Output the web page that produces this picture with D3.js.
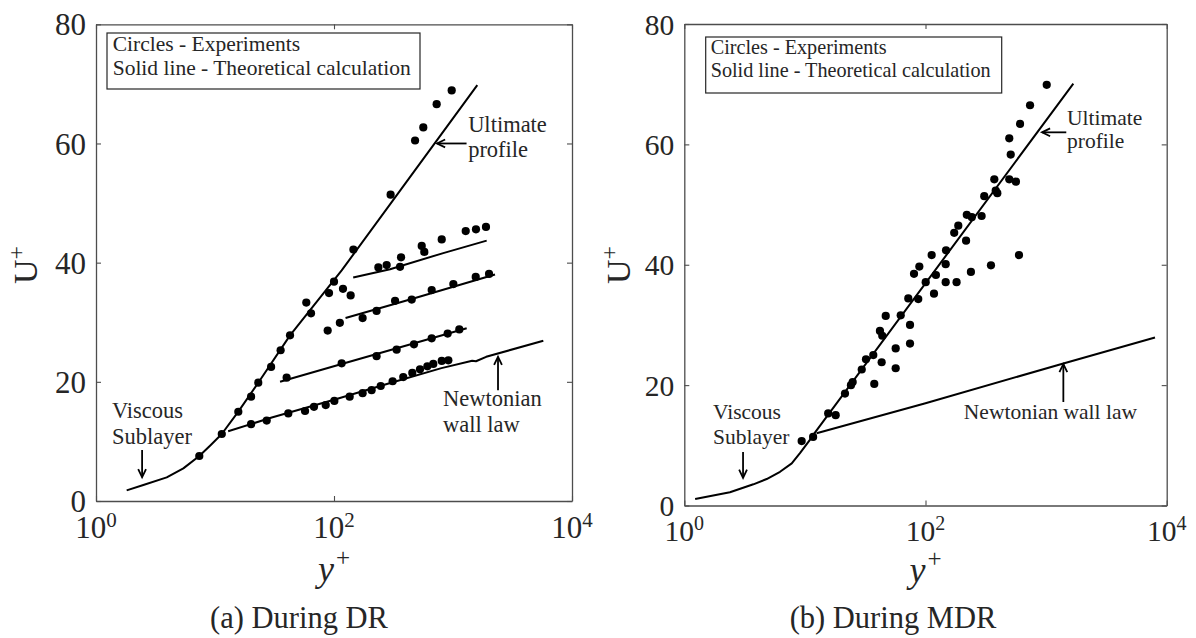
<!DOCTYPE html>
<html>
<head>
<meta charset="utf-8">
<script src="https://cdn.jsdelivr.net/npm/d3@7"></script>
<style>
  html, body { margin: 0; padding: 0; background: #fff; }
  svg { display: block; font-family: "Liberation Serif", "Times New Roman", serif; }
  text { font-family: "Liberation Serif", "Times New Roman", serif; fill: #262626; }
</style>
</head>
<body>
<svg id="chart" width="1196" height="638"></svg>
<script>
// ---------------- DATA ----------------
const xTicks = [1, 100, 10000];
const xTickExponents = ["0", "2", "4"];
const yTicks = [0, 20, 40, 60, 80];
const legendLines = ["Circles - Experiments", "Solid line - Theoretical calculation"];
const captions = ["(a) During DR", "(b) During MDR"];

// (a) During DR — theoretical lines [y+, U+]
const drUltimateLine = [[1.81,1.79],[2.5,2.68],[3.93,3.97],[5.42,5.48],[7.38,7.55],[9.08,9.28],[11.4,11.24],[15.7,15.0],[23.1,19.85],[42.7,27.8],[116,38.7],[408,53.6],[1600,69.8]];
const drNewtonianLine = [[12.9,11.7],[30,14.0],[100,17.0],[297,19.8],[800,22.3],[1450,23.55],[1560,23.45],[1900,24.2],[5741,26.9]];
const drProfileLine1 = [[145,37.5],[296,38.9],[828,41.6],[1919,43.7]];
const drProfileLine2 = [[125,30.7],[450,33.9],[2254,38.0]];
const drProfileLine3 = [[35.2,20.0],[116,23.0],[1303,29.0]];

// (a) During DR — experiments [y+, U+]
const drDotsUltimate = [[7.38,7.55],[11.4,11.24],[15.7,14.98],[20.1,17.5],[23.1,19.85],[29.6,22.5],[35.6,25.3],[42.7,27.8],[58.5,33.3],[64.1,31.5],[90.8,34.9],[100,36.8],[119,35.6],[138,34.5],[145.6,42.2],[299,51.4],[480,60.5],[563,62.7],[729,66.6],[975,68.9]];
const drDotsProfile1 = [[236,39.2],[277,39.6],[359,39.3],[366,40.9],[546,42.8],[574,41.8],[804,43.9],[1279,45.3],[1560,45.6],[1893,46.0]];
const drDotsProfile2 = [[88.5,28.6],[112,29.9],[174,30.7],[228,31.9],[326,33.6],[450,33.8],[662,35.4],[1007,36.4],[1552,37.6],[2009,38.1]];
const drDotsProfile3 = [[40,20.7],[116,23.1],[228,24.3],[336,25.4],[470,26.3],[662,27.3],[902,28.1],[1130,28.8]];
const drDotsNewtonian = [[20.1,12.9],[27.2,13.5],[41.3,14.7],[57.1,15.1],[67.9,15.8],[85.2,16.1],[100.7,16.8],[135.4,17.5],[174,18.1],[207,18.6],[247,19.3],[311,20.1],[382,20.8],[455,21.5],[528,22.1],[609,22.6],[683,23.0],[804,23.5],[914,23.6]];

// (b) During MDR — theoretical lines
const mdrUltimateLine = [[1.23,1.08],[2.39,2.19],[3.74,3.52],[4.82,4.4],[6.22,5.6],[7.78,7.0],[9.1,8.7],[11.0,10.9],[11.4,11.4],[1682,70.1]];
const mdrNewtonianLine = [[12.5,12.0],[100,17.0],[1390,23.6],[8000,27.9]];

// (b) During MDR — experiments
const mdrDots = [[9.4,10.7],[11.7,11.4],[15.6,15.3],[18.0,15.0],[21.5,18.6],[24.1,20.0],[24.9,20.5],[29.6,22.6],[32.1,24.3],[36.9,25.0],[37.6,20.2],[43.3,23.8],[41.9,29.0],[43.8,28.2],[46.8,31.5],[56.6,26.1],[56.6,22.8],[62.3,31.6],[74.4,30.0],[74.4,26.9],[72.0,34.4],[87.1,34.3],[80.3,38.5],[88.9,39.7],[100.4,37.1],[117.6,35.2],[122,38.3],[112.5,41.6],[147,37.1],[147,40.1],[181,37.1],[238,38.8],[349,39.9],[148,42.4],[173,45.3],[187,46.5],[217,44.0],[220,48.3],[242,47.9],[292,48.1],[307,51.4],[372,54.2],[382,52.3],[394,51.9],[495,54.2],[562,53.8],[596,41.6],[509,58.3],[495,61.0],[608,63.4],[736,66.5],[1012,69.9]];

// annotations (data coords): text lines + arrow [from, to]
const drAnnotations = [
  {lines:["Ultimate","profile"], at:[1340,61.9], lineStep:-4.2, arrow:[[1300,60.0],[734,60.0]]},
  {lines:["Viscous","Sublayer"], at:[1.36,13.9], lineStep:-4.35, arrow:[[2.44,8.55],[2.44,4.0]]},
  {lines:["Newtonian","wall law"], at:[824,15.9], lineStep:-4.35, arrow:[[2389,18.6],[2389,24.2]]}
];
const mdrAnnotations = [
  {lines:["Ultimate","profile"], at:[1490,63.2], lineStep:-3.8, arrow:[[1470,62.0],[925,62.0]]},
  {lines:["Viscous","Sublayer"], at:[1.73,14.4], lineStep:-4.15, arrow:[[3.07,8.9],[3.07,4.6]]},
  {lines:["Newtonian wall law"], at:[208,14.4], lineStep:0, arrow:[[1390,17.2],[1390,23.5]]}
];

// ---------------- LAYOUT ----------------
const panels = [
  {left:96, right:572, top:24.3, bottom:501, tickFont:31, supFont:21, annFont:22.5, legFont:21.5,
   legend:{x0:107, y0:33, x1:420, y1:89, tx:112.7, b1:50.5, b2:74.5},
   ylabX:37, ylabY:265, xlabY:581, capX:299, capY:628, xTickBase:538,
   lines:[drUltimateLine, drNewtonianLine, drProfileLine1, drProfileLine2, drProfileLine3],
   dots:[drDotsUltimate, drDotsProfile1, drDotsProfile2, drDotsProfile3, drDotsNewtonian],
   ann:drAnnotations, caption:captions[0]},
  {left:684.3, right:1166.7, top:24, bottom:505.5, tickFont:29.5, supFont:20, annFont:21.5, legFont:20.2,
   legend:{x0:705.7, y0:37, x1:1001.7, y1:93, tx:710.7, b1:53.5, b2:76.5},
   ylabX:630, ylabY:265, xlabY:582, capX:893, capY:628, xTickBase:541,
   lines:[mdrUltimateLine, mdrNewtonianLine],
   dots:[mdrDots],
   ann:mdrAnnotations, caption:captions[1]}
];

const svg = d3.select("#chart");
const axisColor = "#4d4d4d";

panels.forEach(p => {
  const x = d3.scaleLog().domain([1, 1e4]).range([p.left, p.right]);
  const y = d3.scaleLinear().domain([0, 80]).range([p.bottom, p.top]);
  const g = svg.append("g");

  // axes (ticks inside)
  const axB = g.append("g").attr("transform", `translate(0,${p.bottom})`)
    .call(d3.axisBottom(x).tickValues(xTicks).tickSize(-5).tickSizeOuter(0).tickFormat(""));
  const axT = g.append("g").attr("transform", `translate(0,${p.top})`)
    .call(d3.axisTop(x).tickValues(xTicks).tickSize(-5).tickSizeOuter(0).tickFormat(""));
  const axL = g.append("g").attr("transform", `translate(${p.left},0)`)
    .call(d3.axisLeft(y).tickValues(yTicks).tickSize(-5).tickSizeOuter(0).tickPadding(10));
  const axR = g.append("g").attr("transform", `translate(${p.right},0)`)
    .call(d3.axisRight(y).tickValues(yTicks).tickSize(-5).tickSizeOuter(0).tickFormat(""));
  [axB, axT, axL, axR].forEach(a => {
    a.selectAll("path.domain").attr("stroke", axisColor).attr("stroke-width", 1.3);
    a.selectAll(".tick line").attr("stroke", axisColor).attr("stroke-width", 1.1);
  });
  axL.selectAll(".tick text")
    .attr("font-family", "Liberation Serif, serif")
    .attr("font-size", p.tickFont).attr("fill", "#262626").attr("dy", "0.34em");

  // x tick labels with superscripts
  xTicks.forEach((v, i) => {
    const t = g.append("text").attr("x", x(v)).attr("y", p.xTickBase)
      .attr("text-anchor", "middle").attr("font-size", p.tickFont);
    t.append("tspan").text("10");
    t.append("tspan").attr("font-size", p.supFont).attr("dy", -11).text(xTickExponents[i]);
  });

  // axis labels
  const yl = g.append("text").attr("transform", `translate(${p.ylabX},${p.ylabY}) rotate(-90)`)
    .attr("text-anchor", "middle").attr("font-size", 34);
  yl.append("tspan").text("U");
  yl.append("tspan").attr("font-size", 24).attr("dy", -13).text("+");

  const xl = g.append("text").attr("x", x(100)).attr("y", p.xlabY)
    .attr("text-anchor", "middle").attr("font-size", 36);
  xl.append("tspan").attr("font-style", "italic").text("y");
  xl.append("tspan").attr("font-size", 25).attr("dy", -15).attr("dx", 2).text("+");

  // caption
  g.append("text").attr("x", p.capX).attr("y", p.capY).attr("text-anchor", "middle")
    .attr("font-size", 30.5).text(p.caption);

  // legend box
  g.append("rect").attr("x", p.legend.x0).attr("y", p.legend.y0)
    .attr("width", p.legend.x1 - p.legend.x0).attr("height", p.legend.y1 - p.legend.y0)
    .attr("fill", "#fff").attr("stroke", "#262626").attr("stroke-width", 1.2);
  g.append("text").attr("x", p.legend.tx).attr("y", p.legend.b1).attr("font-size", p.legFont).text(legendLines[0]);
  g.append("text").attr("x", p.legend.tx).attr("y", p.legend.b2).attr("font-size", p.legFont).text(legendLines[1]);

  // theoretical lines
  const line = d3.line().x(d => x(d[0])).y(d => y(d[1]));
  p.lines.forEach(L => {
    g.append("path").attr("d", line(L)).attr("fill", "none")
      .attr("stroke", "#000").attr("stroke-width", 2).attr("stroke-linejoin", "round");
  });

  // experiment dots
  p.dots.forEach(D => {
    g.selectAll(null).data(D).enter().append("circle")
      .attr("cx", d => x(d[0])).attr("cy", d => y(d[1])).attr("r", 4.1).attr("fill", "#000");
  });

  // annotations
  p.ann.forEach(a => {
    a.lines.forEach((s, i) => {
      g.append("text").attr("x", x(a.at[0])).attr("y", y(a.at[1] + i * a.lineStep))
        .attr("font-size", p.annFont).text(s);
    });
    const [f, t] = a.arrow;
    const x0 = x(f[0]), y0 = y(f[1]), x1 = x(t[0]), y1 = y(t[1]);
    g.append("line").attr("x1", x0).attr("y1", y0).attr("x2", x1).attr("y2", y1)
      .attr("stroke", "#000").attr("stroke-width", 1.8);
    const ang = Math.atan2(y1 - y0, x1 - x0), L = 9, w = 0.45;
    const p1 = [x1 - L * Math.cos(ang - w), y1 - L * Math.sin(ang - w)];
    const p2 = [x1 - L * Math.cos(ang + w), y1 - L * Math.sin(ang + w)];
    g.append("path").attr("d", `M${p1}L${x1},${y1}L${p2}`).attr("fill", "none")
      .attr("stroke", "#000").attr("stroke-width", 1.8);
  });
});
</script>
</body>
</html>
